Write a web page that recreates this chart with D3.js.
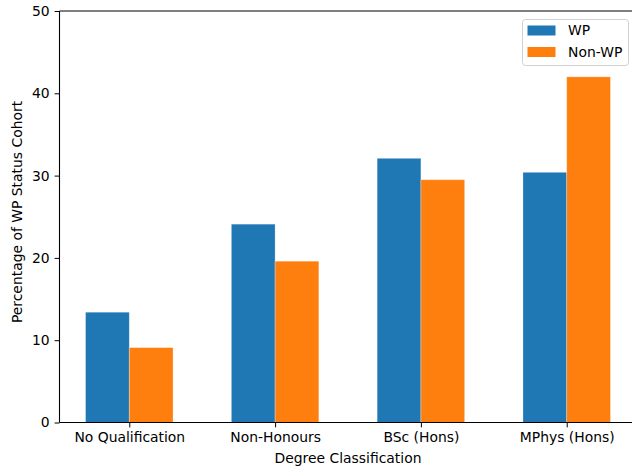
<!DOCTYPE html>
<html>
<head>
<meta charset="utf-8">
<script src="https://cdn.jsdelivr.net/npm/d3@7"></script>
<style>
  html, body { margin: 0; padding: 0; background: #fff; }
  svg { display: block; font-family: "DejaVu Sans", sans-serif; }
</style>
</head>
<body>
<svg id="chart" width="632" height="470"></svg>
<script>
// Degree outcome by widening-participation status (percent of each cohort)
const categories = ["No Qualification", "Non-Honours", "BSc (Hons)", "MPhys (Hons)"];
const seriesNames = ["WP", "Non-WP"];
const wpValues = [13.4, 24.1, 32.1, 30.4];
const nonWpValues = [9.1, 19.6, 29.5, 42.0];
const yTicks = [0, 10, 20, 30, 40, 50];
const colors = ["#1f77b4", "#ff7f0e"];

const svg = d3.select("#chart");
const plotLeft = 59.5, plotRight = 636.5, plotTop = 11, plotBottom = 422.5;

const x = d3.scalePoint()
  .domain(categories)
  .range([plotLeft, plotRight])
  .padding(0.4786);
const barW = x.step() * 0.3;

const y = d3.scaleLinear().domain([0, 50]).range([plotBottom, plotTop]);

const series = [wpValues, nonWpValues];

// bars: WP to the left of each tick, Non-WP to the right
series.forEach((vals, s) => {
  svg.append("g")
    .selectAll("rect")
    .data(categories.map((c, i) => ({ c, v: vals[i] })))
    .join("rect")
    .attr("x", d => x(d.c) + (s === 0 ? -barW : 0))
    .attr("y", d => y(d.v))
    .attr("width", barW)
    .attr("height", d => y(0) - y(d.v))
    .attr("fill", colors[s])
    .attr("stroke", "#ffffff")
    .attr("stroke-opacity", 0.35)
    .attr("stroke-width", 0.8);
});

// axes
const fontSize = "13.9px";
const yAxis = svg.append("g")
  .attr("transform", `translate(${plotLeft},0)`)
  .call(d3.axisLeft(y).tickValues(yTicks).tickSize(4.9).tickPadding(4.9).tickFormat(d3.format("d")));
const xAxis = svg.append("g")
  .attr("transform", `translate(0,${plotBottom})`)
  .call(d3.axisBottom(x).tickSize(4.9).tickPadding(4.9).tickSizeOuter(0));

[yAxis, xAxis].forEach(g => {
  g.selectAll("text").attr("font-size", fontSize).attr("fill", "#000").attr("font-family", "DejaVu Sans");
  g.selectAll("line").attr("stroke", "#000").attr("stroke-width", 1);
  g.select(".domain").remove();
});

// spines
const spines = [
  [plotLeft, plotTop, plotLeft, plotBottom],
  [plotLeft, plotBottom, plotRight, plotBottom],
  [plotLeft, plotTop, plotRight, plotTop],
  [plotRight, plotTop, plotRight, plotBottom]
];
svg.append("g").selectAll("line").data(spines).join("line")
  .attr("x1", d => d[0]).attr("y1", d => d[1])
  .attr("x2", d => d[2]).attr("y2", d => d[3])
  .attr("stroke", "#000").attr("stroke-width", 1.1);

// axis titles
svg.append("text")
  .attr("x", (plotLeft + plotRight) / 2)
  .attr("y", 463)
  .attr("text-anchor", "middle")
  .attr("font-size", fontSize)
  .text("Degree Classification");

svg.append("text")
  .attr("transform", `translate(22,212) rotate(-90)`)
  .attr("text-anchor", "middle")
  .attr("font-size", fontSize)
  .text("Percentage of WP Status Cohort");

// legend
const legend = svg.append("g");
legend.append("rect")
  .attr("x", 522.5).attr("y", 19.5).attr("width", 106).attr("height", 46)
  .attr("rx", 3)
  .attr("fill", "#fff").attr("fill-opacity", 0.8)
  .attr("stroke", "#d0d0d0").attr("stroke-width", 1);
seriesNames.forEach((name, i) => {
  const yy = 25.5 + i * 21.5;
  legend.append("rect")
    .attr("x", 527.5).attr("y", yy).attr("width", 28).attr("height", 10)
    .attr("fill", colors[i]);
  legend.append("text")
    .attr("x", 568).attr("y", yy + 5)
    .attr("dy", "0.35em")
    .attr("font-size", fontSize)
    .text(name);
});
</script>
</body>
</html>
